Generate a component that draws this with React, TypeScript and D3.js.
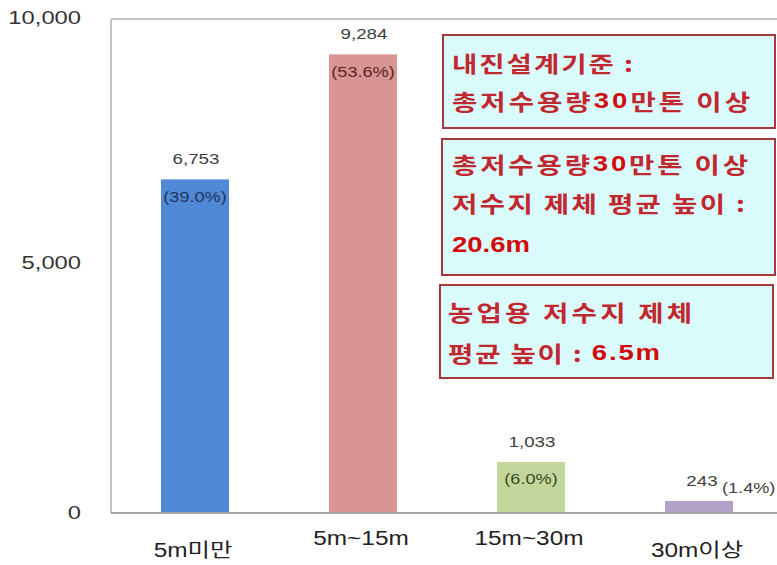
import React from "react";
import * as d3 from "d3";

const categories = ["5m미만", "5m~15m", "15m~30m", "30m이상"];
const values = [6753, 9284, 1033, 243];
const percentLabels = ["(39.0%)", "(53.6%)", "(6.0%)", "(1.4%)"];
const barColors = ["#5089d6", "#d99594", "#c3d69b", "#b3a2c7"];
const pctColors = ["#1f3658", "#5a2424", "#3b4a22", "#404040"];
const yTicks = [0, 5000, 10000];

// note boxes: each line is a list of [text, isNumber] segments
const note1 = [
  [["내진설계기준 :", false]],
  [["총저수용량", false], ["30", true], ["만톤 이상", false]],
];
const note2 = [
  [["총저수용량", false], ["30", true], ["만톤 이상", false]],
  [["저수지 제체 평균 높이 :", false]],
  [["20.6m", true]],
];
const note3 = [
  [["농업용 저수지 제체", false]],
  [["평균 높이 : ", false], ["6.5m", true]],
];

const W = 777;
const H = 565;
const SX = 1.25; // horizontal stretch of the source image

function T({ x, y, size, anchor = "middle", fill = "#404040", weight = "normal", family = "'Liberation Sans', 'Noto Sans CJK KR', sans-serif", children }: any) {
  return (
    <g transform={`translate(${x},${y}) scale(${SX},1)`}>
      <text x={0} y={0} fontSize={size} textAnchor={anchor} fill={fill} fontWeight={weight} fontFamily={family} dominantBaseline="central">
        {children}
      </text>
    </g>
  );
}

function NoteBox({ x, y, w, h, lines, lineYs, widths, pad = 9 }: any) {
  return (
    <g>
      <rect x={x} y={y} width={w} height={h} fill="#dafbfc" stroke="#a6373b" strokeWidth={2} />
      {lines.map((segs: any, i: number) => (
        <g key={i} transform={`translate(${x + pad},${lineYs[i]}) scale(${SX},1)`}>
          <text
            x={0}
            y={0}
            fontSize={22}
            fontWeight="bold"
            dominantBaseline="central"
            fontFamily="'Noto Sans CJK KR', sans-serif"
            textLength={widths[i] / SX}
            lengthAdjust="spacing"
          >
            {segs.map((s: any, j: number) => (
              <tspan key={j} fill={s[1] ? "#d10a0a" : "#c0272f"} fontFamily={s[1] ? "'Liberation Sans', 'Noto Sans CJK KR', sans-serif" : "'Noto Sans CJK KR', sans-serif"}>
                {s[0]}
              </tspan>
            ))}
          </text>
        </g>
      ))}
    </g>
  );
}

export default function App() {
  const y = d3.scaleLinear().domain([0, 10000]).range([513, 19]);
  const x = d3
    .scaleBand<string>()
    .domain(categories)
    .range([111, 783])
    .paddingInner(100 / 168)
    .paddingOuter(50 / 168);
  const fmt = d3.format(",");
  const bw = x.bandwidth();

  return (
    <svg width={W} height={H} style={{ position: "absolute", left: 0, top: 0, background: "#fff" }}>
      {/* frame */}
      <line x1={111} x2={W} y1={y(10000)} y2={y(10000)} stroke="#c4c4c4" strokeWidth={2} />
      <line x1={111} x2={111} y1={y(10000)} y2={y(0)} stroke="#c4c4c4" strokeWidth={2} />

      {/* y ticks */}
      {yTicks.map((t) => (
        <T key={t} x={81} y={y(t) - (t === 10000 ? 1 : t === 5000 ? 3 : 0)} size={19} anchor="end" fill="#333">
          {fmt(t)}
        </T>
      ))}

      {/* bars */}
      {categories.map((c, i) => {
        const x0 = x(c)!;
        const top = y(values[i]);
        const cx = x0 + bw / 2;
        const inside = y(0) - top > 30;
        return (
          <g key={c}>
            <rect x={x0} y={top} width={bw} height={y(0) - top} fill={barColors[i]} />
            <T x={cx + (inside ? 1 : 3)} y={top - 20} size={15}>
              {fmt(values[i])}
            </T>
            {inside ? (
              <T x={cx} y={top + 17} size={14.5} fill={pctColors[i]}>
                {percentLabels[i]}
              </T>
            ) : (
              <T x={x0 + bw - 11} y={top - 13} size={14.5} anchor="start" fill={pctColors[i]}>
                {percentLabels[i]}
              </T>
            )}
            <T x={cx - 2} y={y(0) + (/[가-힣]/.test(c) ? 37 : 25)} size={19.5} fill="#222">
              {c}
            </T>
          </g>
        );
      })}

      {/* baseline */}
      <line x1={111} x2={W} y1={y(0)} y2={y(0)} stroke="#a6a6a6" strokeWidth={2} />

      {/* notes */}
      <NoteBox x={443} y={35} w={332} h={93} lines={note1} lineYs={[62, 100]} widths={[181, 298]} />
      <NoteBox x={442} y={139} w={333} h={136} lines={note2} lineYs={[163, 202, 244]} widths={[296, 293, 78]} pad={10} />
      <NoteBox x={440} y={285} w={333} h={93} lines={note3} lineYs={[311, 352]} widths={[244, 212]} pad={8} />
    </svg>
  );
}
